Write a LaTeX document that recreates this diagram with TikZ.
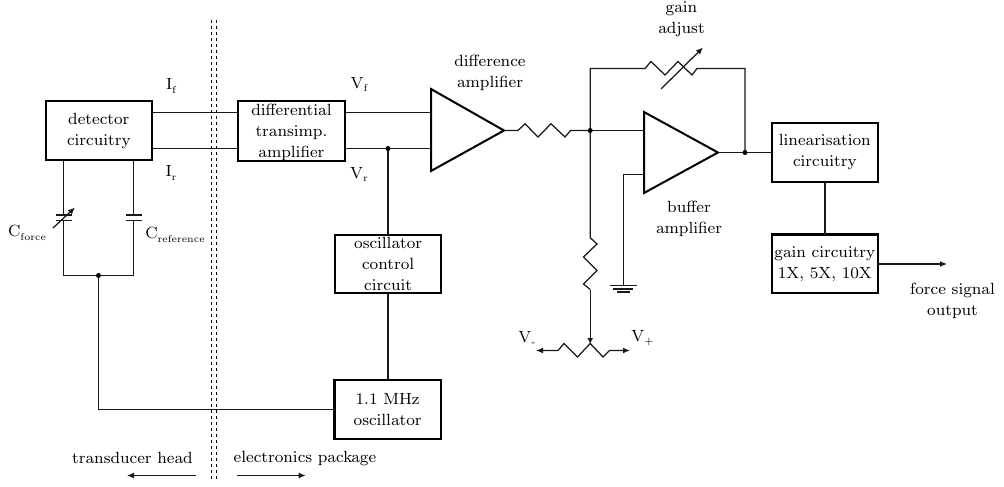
\documentclass[tikz,border=0pt]{standalone}
\usetikzlibrary{arrows.meta}
\DeclareFontFamily{OT1}{mylbl}{}
\DeclareFontShape{OT1}{mylbl}{m}{n}{<-> cmr8}{}
\DeclareFontFamily{OT1}{mysub}{}
\DeclareFontShape{OT1}{mysub}{m}{n}{<-> cmr6}{}
\newcommand{\lbl}{\fontsize{16.2}{21}\usefont{OT1}{mylbl}{m}{n}}
\newcommand{\sbs}[1]{\raisebox{-3.2pt}{\fontsize{9.9}{12}\usefont{OT1}{mysub}{m}{n}#1}}
\tikzset{
  x=1pt,y=-1pt,
  every node/.style={font=\lbl,text=black,inner sep=0pt,outer sep=0pt,align=center},
  wire/.style={line width=1.25pt,black!90},
  box/.style={draw=black,line width=2.2pt,anchor=north west,fill=white,minimum width=106.3pt,minimum height=58.4pt},
  amp/.style={draw=black,line width=2pt,line join=miter},
  dot/.style={circle,fill=black,draw=none,minimum size=5pt,inner sep=0pt},
  arr/.style={wire,-{Latex[length=7pt,width=6pt]}},
  dbl/.style={line width=1.6pt,black,dash pattern=on 3pt off 3pt}
}
\begin{document}
\begin{tikzpicture}
\useasboundingbox (0,0) rectangle (1004,487);
% divider
\coordinate (dla) at (211.5,20); \coordinate (dlb) at (211.5,479);
\coordinate (dra) at (216.5,20); \coordinate (drb) at (216.5,479);
% boxes
\node[box] (det) at (45.7,101.3) {detector\\circuitry};
\node[box] (dta) at (238.3,101.2) {\rule{0pt}{14.4pt}differential\\transimp.\\amplifier};
\node[box] (occ) at (335,234.7) {oscillator\\control\\circuit};
\node[box] (osc) at (334.5,380.3) {1.1 MHz\\oscillator};
\node[box] (lin) at (771.7,123.2) {linearisation\\circuitry};
\node[box] (gcc) at (771.7,234.5) {gain circuitry\\1X, 5X, 10X};
% coordinates
\coordinate (if) at (152,112.5); \coordinate (ifr) at (238.3,112.5);
\coordinate (ir) at (152,148.5); \coordinate (irr) at (238.3,148.5);
\coordinate (vfa) at (344.6,112.5); \coordinate (vfb) at (431,112.5);
\coordinate (vra) at (344.6,148.5); \coordinate (vrb) at (431,148.5);
\coordinate (j1) at (388,148.5);
\coordinate (ca) at (63.5,159.7); \coordinate (cb) at (133.5,159.7);
\coordinate (cat) at (63.5,215); \coordinate (cab) at (63.5,220.7);
\coordinate (cbt) at (133.5,215); \coordinate (cbb) at (133.5,220.7);
\coordinate (lo) at (98.5,275.5);
\coordinate (loa) at (63.5,275.5); \coordinate (lob) at (133.5,275.5);
\coordinate (c1) at (98.5,409.5);
\coordinate (amp1a) at (431,89); \coordinate (amp1b) at (431,171); \coordinate (amp1c) at (504,130.5);
\coordinate (amp2a) at (644,112); \coordinate (amp2b) at (644,193); \coordinate (amp2c) at (718,152.5);
\coordinate (j2) at (590.2,130.5); \coordinate (j3) at (745,152.5);
\coordinate (fb1) at (590.2,68.5); \coordinate (fb2) at (745,68.5);
\coordinate (gnd) at (623.5,285.7); \coordinate (gnt) at (623.5,174.5);
\coordinate (wip) at (590.2,344);
\coordinate (vm) at (536,350.5); \coordinate (vp) at (630,350.5);
% divider lines
\draw[dbl] (dla) -- (dlb);
\draw[dbl] (dra) -- (drb);
% wires
\draw[wire] (if) -- (ifr) (ir) -- (irr) (vfa) -- (vfb) (vra) -- (vrb);
\draw[wire] (j1) -- (j1 |- occ.north);
\draw[wire] (j1 |- occ.south) -- (j1 |- osc.north);
\draw[wire] (c1 -| osc.west) -- (c1) -- (lo);
\draw[wire] (lo) -- (loa) -- (cab);
\draw[wire] (lo) -- (lob) -- (cbb);
\draw[wire] (cat) -- (ca);
\draw[wire] (cbt) -- (cb);
\draw[wire] (56,215) -- (71.5,215) (56,220.7) -- (71.5,220.7);
\draw[wire] (125.5,215) -- (142,215) (125.5,220.7) -- (142,220.7);
\draw[arr] (53,228) -- (75,207.5);
\node[dot] at (j1) {};
\node[dot] at (lo) {};
% amplifiers
\draw[amp,fill=white] (amp1a) -- (amp1c) -- (amp1b) -- cycle;
\draw[amp,fill=white] (amp2a) -- (amp2c) -- (amp2b) -- cycle;
% resistors
\draw[wire,line join=miter] (amp1c) -- (518,130.5) -- (525,123.8) -- (538,137) -- (551,123.8) -- (565,137) -- (570.5,130.5) -- (j2);
\draw[wire] (j2) -- (644,130.5);
\draw[wire] (fb1) -- (j2) -- (590.2,237.7) -- (597,244) -- (583.5,257) -- (597,270.5) -- (583.5,284) -- (590.2,289.5);
\draw[wire,-{Latex[length=6pt,width=6pt]}] (590.2,289.5) -- (wip);
\draw[wire] (fb1) -- (645,68.5) -- (651,61.5) -- (665,75) -- (678,61.5) -- (692,75) -- (697,68.5) -- (fb2) -- (j3);
\draw[arr] (661,89) -- (703,47.5);
\draw[wire] (amp2c) -- (j3) -- (j3 -| lin.west);
\node[dot] at (j2) {};
\node[dot] at (j3) {};
% ground
\draw[wire] (amp2a |- gnt) -- (gnt) -- (gnd);
\draw[wire] (610,285.5) -- (637,285.5) (613,289) -- (633,289) (617,292) -- (630,292);
% pot
\draw[wire,{Latex[length=7pt,width=6pt]}-{Latex[length=7pt,width=6pt]}] (vm) -- (558,350.5) -- (564,343.5) -- (577.5,357) -- (590.2,343.5) -- (603,357) -- (609.5,350.5) -- (vp);
% output
\coordinate (lnk) at (825,200);
\draw[wire] (lnk |- lin.south) -- (lnk |- gcc.north);
\coordinate (out) at (947,264);
\draw[arr] (out -| gcc.east) -- (out);
% bottom arrows
\coordinate (tha) at (196,475.5); \coordinate (thb) at (127,475.5);
\coordinate (epa) at (236.7,475.5); \coordinate (epb) at (305.7,475.5);
\draw[arr] (tha) -- (thb);
\draw[arr] (epa) -- (epb);
% labels
\node (l1) at (171,86) {I\sbs{f}};
\node (l2) at (171,173) {I\sbs{r}};
\node (l3) at (359,84.5) {V\sbs{f}};
\node (l4) at (359,174.5) {V\sbs{r}};
\node (l5) at (27,233) {C\sbs{force}};
\node (l6) at (175,235) {C\sbs{reference}};
\node (l7) at (490,72.5) {difference\\amplifier};
\node (l8) at (681.5,19) {gain\\adjust};
\node (l9) at (689,218.5) {buffer\\amplifier};
\node (l10) at (952.5,300.5) {force signal\\output};
\node (l11) at (527,338.5) {V\sbs{-}};
\node (l12) at (642.5,338.5) {V\sbs{+}};
\node (l13) at (132.5,458) {transducer head};
\node (l14) at (305,458) {electronics package};
\end{tikzpicture}
\end{document}
